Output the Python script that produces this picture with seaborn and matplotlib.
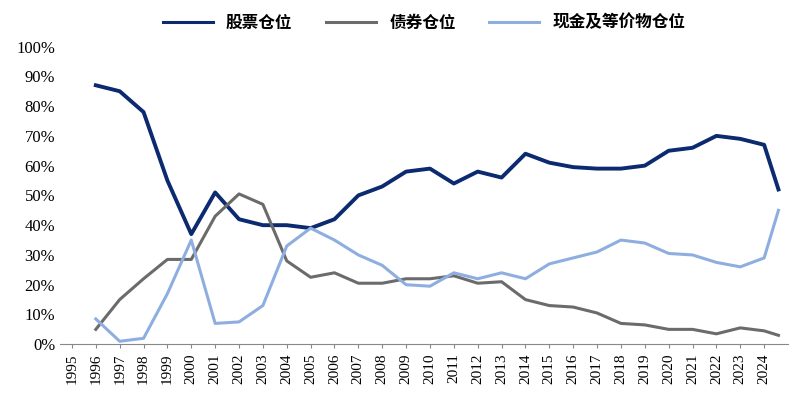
import matplotlib
matplotlib.use("Agg")
import matplotlib.pyplot as plt
import seaborn as sns
import pandas as pd

years = [1996,1997,1998,1999,2000,2001,2002,2003,2004,2005,2006,2007,2008,2009,2010,2011,2012,2013,2014,2015,2016,2017,2018,2019,2020,2021,2022,2023,2024,2024.6]
stocks = [87,85,78,55,37,51,42,40,40,39,42,50,53,58,59,54,58,56,64,61,59.5,59,59,60,65,66,70,69,67,52]
bonds = [5,15,22,28.5,28.5,43,50.5,47,28,22.5,24,20.5,20.5,22,22,23,20.5,21,15,13,12.5,10.5,7,6.5,5,5,3.5,5.5,4.5,3]
cash = [8.5,1,2,17,35,7,7.5,13,33,39,35,30,26.5,20,19.5,24,22,24,22,27,29,31,35,34,30.5,30,27.5,26,29,45]
names = ["股票仓位", "债券仓位", "现金及等价物仓位"]
colors = ["#0b2a6f", "#6b6b6b", "#8eaee0"]
xticks = list(range(1995, 2025))

df = pd.DataFrame({"year": years, names[0]: stocks, names[1]: bonds, names[2]: cash})
long = df.melt(id_vars="year", var_name="s", value_name="v")

fig, ax = plt.subplots(figsize=(8, 4.05), dpi=100)
fig.subplots_adjust(left=0.075, right=0.985, top=0.885, bottom=0.15)
sns.lineplot(data=long, x="year", y="v", hue="s", palette=colors, ax=ax,
             linewidth=2.2, solid_joinstyle="round")
ax.lines[0].set_linewidth(2.8)
ax.set_xlim(1994.5, 2025)
ax.set_ylim(0, 100)
ax.set_xticks(xticks)
ax.set_xticklabels([str(x) for x in xticks], rotation=90, fontfamily="Liberation Serif", fontsize=11)
ax.set_yticks(range(0, 101, 10))
ax.set_yticklabels([f"{v}%" for v in range(0, 101, 10)], fontfamily="Liberation Serif", fontsize=12)
ax.set_xlabel(""); ax.set_ylabel("")
for s in ["top", "right", "left"]:
    ax.spines[s].set_visible(False)
ax.spines["bottom"].set_color("#888888")
ax.tick_params(axis="y", length=0)
ax.tick_params(axis="x", length=3, color="#888888")
ax.legend(ncol=3, loc="lower center", bbox_to_anchor=(0.5, 1.0), frameon=False,
          prop={"family": "Noto Sans CJK SC", "size": 12, "weight": "bold"},
          handlelength=3, columnspacing=2)
fig.savefig("out.png")
